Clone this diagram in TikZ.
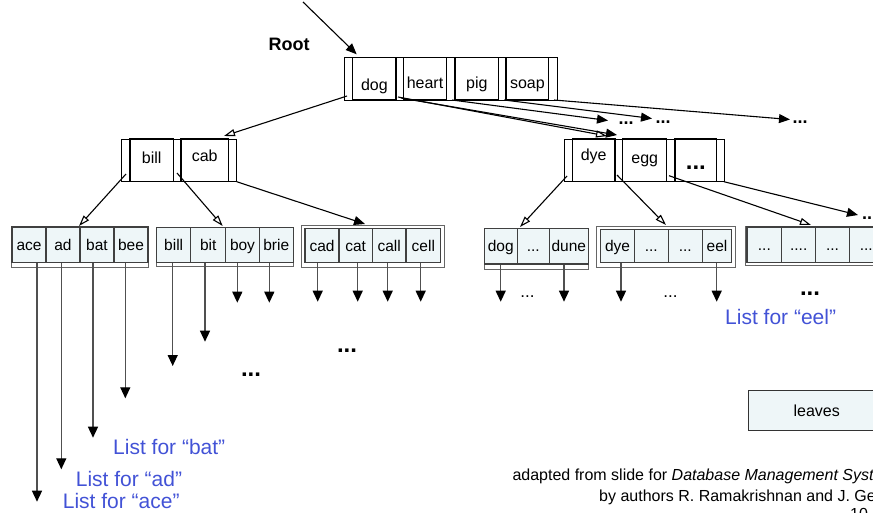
\documentclass[tikz,border=0pt]{standalone}
\usepackage{fontspec}
\setmainfont{Liberation Sans}
\usetikzlibrary{arrows.meta}
\definecolor{leaffill}{HTML}{EEF6F8}
\definecolor{listblue}{RGB}{66,82,214}
\definecolor{shaft}{HTML}{505050}
\begin{document}
\begin{tikzpicture}[x=1pt,y=-1pt,
  ibox/.style={draw, line width=0.7pt, inner sep=0pt, fill=white},
  kcell/.style={draw, line width=1.2pt, inner sep=0pt, minimum height=42.7pt,
    font=\fontsize{16}{18}\selectfont, text height=11.5pt, text depth=0pt},
  lframe/.style={draw=black!60, line width=0.7pt, fill=white, inner sep=0pt},
  lcell/.style={draw=black!75, line width=1.1pt, fill=leaffill, inner sep=0pt,
    font=\fontsize{15.5}{18}\selectfont, text height=11.5pt, text depth=0pt},
  ptr/.style={line width=1.1pt, -{Triangle[width=9pt,length=11pt]}},
  hptr/.style={line width=1.1pt, -{Triangle[open,width=7pt,length=11pt,fill=white]}},
  down/.style={draw=shaft, line width=1.3pt, -{Triangle[width=10pt,length=11pt,color=black]}},
  dots/.style={font=\bfseries\fontsize{18}{20}\selectfont, inner sep=0pt},
  bigdots/.style={font=\bfseries\fontsize{24}{26}\selectfont, inner sep=0pt},
  smalldots/.style={font=\fontsize{17}{19}\selectfont, inner sep=0pt},
  listlbl/.style={text=listblue, font=\fontsize{21}{24}\selectfont, inner sep=0pt, anchor=west},
  foot/.style={font=\fontsize{16}{18}\selectfont, inner sep=0pt}
]
\useasboundingbox (0,0) rectangle (873,512);

% ---------- Root ----------
\node[font=\bfseries\fontsize{18}{20}\selectfont, inner sep=0pt] (rootlbl) at (289,44) {Root};
\node[ibox, minimum width=213.7pt, minimum height=42.7pt] (root) at (450.85,78.65) {};
\node[kcell, minimum width=43.3pt, text height=24.6pt] (rdog) at (374.35,78.65) {dog};
\node[kcell, minimum width=43.4pt, text height=19.2pt] (rheart) at (425,78.65) {heart};
\node[kcell, minimum width=43.7pt, text height=19.2pt] (rpig) at (476.85,78.65) {pig};
\node[kcell, minimum width=42.7pt, text height=19.2pt] (rsoap) at (527.35,78.65) {soap};

% ---------- Level 1 left ----------
\node[ibox, minimum width=115pt, minimum height=42.7pt] (lone) at (179.2,160.35) {};
\node[kcell, minimum width=43.3pt, text height=6pt] (lbill) at (151.65,160.35) {bill};
\node[kcell, minimum width=47.3pt, text height=2.6pt] (lcab) at (204.65,160.35) {cab};

% ---------- Level 1 right ----------
\node[ibox, minimum width=160.3pt, minimum height=42.7pt] (rone) at (644.15,160.35) {};
\node[kcell, minimum width=42.7pt, text height=0.5pt] (rdye) at (593.65,160.35) {dye};
\node[kcell, minimum width=44pt, text height=6pt] (regg) at (644.7,160.35) {egg};
\node[kcell, minimum width=41.7pt, text height=18.4pt, font=\bfseries\fontsize{24}{26}\selectfont] (rmore) at (695.85,160.35) {...};

% ---------- Leaves ----------
% leaf 1
\node[lframe, minimum width=136.6pt, minimum height=40.6pt] (lf1) at (80,247) {};
\node[lcell, minimum width=34pt, minimum height=35.3pt] (ace) at (29,244.65) {ace};
\node[lcell, minimum width=34pt, minimum height=35.3pt] (ad) at (63,244.65) {ad};
\node[lcell, minimum width=34pt, minimum height=35.3pt] (bat) at (97,244.65) {bat};
\node[lcell, minimum width=34pt, minimum height=35.3pt] (bee) at (131,244.65) {bee};
% leaf 2
\node[lframe, minimum width=136.6pt, minimum height=38.7pt] (lf2) at (225,246.65) {};
\node[lcell, minimum width=34pt, minimum height=35pt] (bill) at (173.7,244.8) {bill};
\node[lcell, minimum width=35pt, minimum height=35pt] (bit) at (208.2,244.8) {bit};
\node[lcell, minimum width=33.6pt, minimum height=35pt] (boy) at (242.5,244.8) {boy};
\node[lcell, minimum width=34pt, minimum height=35pt] (brie) at (276.3,244.8) {brie};
% leaf 3
\node[lframe, minimum width=142.3pt, minimum height=42.3pt] (lf3) at (372.85,246.15) {};
\node[lcell, minimum width=34pt, minimum height=34.4pt] (cad) at (322,245.5) {cad};
\node[lcell, minimum width=33.3pt, minimum height=34.4pt] (cat) at (355.65,245.5) {cat};
\node[lcell, minimum width=33.7pt, minimum height=34.4pt] (call) at (389.15,245.5) {call};
\node[lcell, minimum width=34.7pt, minimum height=34.4pt] (cell) at (423.35,245.5) {cell};
% leaf 4
\node[lframe, minimum width=104pt, minimum height=41pt] (lf4) at (536.3,248.8) {};
\node[lcell, minimum width=33pt, minimum height=35.7pt] (dog) at (500.8,246.15) {dog};
\node[lcell, minimum width=32pt, minimum height=35.7pt] (dogm) at (533.3,246.15) {...};
\node[lcell, minimum width=39pt, minimum height=35.7pt] (dune) at (568.8,246.15) {dune};
% leaf 5
\node[lframe, minimum width=139.7pt, minimum height=40.6pt] (lf5) at (665.85,247) {};
\node[lcell, minimum width=33.6pt, minimum height=33.4pt] (dye) at (617.5,246) {dye};
\node[lcell, minimum width=34pt, minimum height=33.4pt] (dyea) at (651.3,246) {...};
\node[lcell, minimum width=34pt, minimum height=33.4pt] (dyeb) at (685.3,246) {...};
\node[lcell, minimum width=29.4pt, minimum height=33.4pt] (eel) at (717,246) {eel};
% leaf 6
\node[lframe, minimum width=144.3pt, minimum height=39pt] (lf6) at (817.85,246.2) {};
\node[lcell, minimum width=34.7pt, minimum height=35.7pt] (ea) at (764.35,244.85) {...};
\node[lcell, minimum width=34pt, minimum height=35.7pt] (eb) at (798.7,244.85) {....};
\node[lcell, minimum width=33.6pt, minimum height=35.7pt] (ec) at (832.5,244.85) {...};
\node[lcell, minimum width=34pt, minimum height=35.7pt] (ed) at (866.3,244.85) {...};

% ---------- pointer coordinates ----------
\coordinate (rootin) at (303,2);
\coordinate (rootin-t) at (356.7,54.3);
\coordinate (rp0) at (347,96);
\coordinate (rp1) at (398,97);
\coordinate (rp1b) at (401,98);
\coordinate (rp2) at (452,100);
\coordinate (rp3) at (504,100);
\coordinate (rp4) at (554,100);
\coordinate (tA1) at (224,136);
\coordinate (tA2) at (607,136);
\coordinate (tA3) at (617,135);
\coordinate (tA4) at (608,120.5);
\coordinate (tA5) at (652,118.5);
\coordinate (tA6) at (790,119.5);

\coordinate (lp0) at (126,174);
\coordinate (lp1) at (177,173);
\coordinate (lp2) at (236.7,181.7);
\coordinate (tB1) at (79,226);
\coordinate (tB2) at (222.7,226);
\coordinate (tB3) at (365,224);

\coordinate (qp0) at (567,176);
\coordinate (qp1) at (617,175);
\coordinate (qp2) at (669,175.7);
\coordinate (qp3) at (724,181.7);
\coordinate (tC1) at (520,227);
\coordinate (tC2) at (666,225);
\coordinate (tC3) at (811,225);
\coordinate (tC4) at (858,215);

% tips of downward arrows
\coordinate (t-ace) at (37,501.7);
\coordinate (t-ad) at (61.3,469.3);
\coordinate (t-bat) at (93,437.7);
\coordinate (t-bee) at (125.3,398.3);
\coordinate (t-bill) at (172.7,366);
\coordinate (t-bit) at (205,341.7);
\coordinate (t-boy) at (237.3,302.7);
\coordinate (t-brie) at (269.3,302.7);
\coordinate (t-cad) at (317.7,301.7);
\coordinate (t-cat) at (357.7,301.7);
\coordinate (t-call) at (387.7,301.7);
\coordinate (t-cell) at (420.7,301.7);
\coordinate (t-dog) at (500.7,301.7);
\coordinate (t-dune) at (564,301.7);
\coordinate (t-dye) at (621,301.7);
\coordinate (t-eel) at (716.7,301.7);

% ---------- connectors ----------
\draw[ptr] (rootin) -- (rootin-t);
\draw[hptr] (rp0) -- (tA1);
\draw[hptr] (rp1) -- (tA2);
\draw[ptr] (rp1b) -- (tA3);
\draw[ptr] (rp2) -- (tA4);
\draw[ptr] (rp3) -- (tA5);
\draw[ptr] (rp4) -- (tA6);

\draw[hptr] (lp0) -- (tB1);
\draw[hptr] (lp1) -- (tB2);
\draw[ptr] (lp2) -- (tB3);

\draw[hptr] (qp0) -- (tC1);
\draw[hptr] (qp1) -- (tC2);
\draw[hptr] (qp2) -- (tC3);
\draw[ptr] (qp3) -- (tC4);

\foreach \k in {ace,ad,bat,bee,bill,bit,boy,brie,cad,cat,call,cell,dog,dune,dye,eel}
  \draw[down] (t-\k |- \k.south) -- (t-\k);

% ---------- dots ----------
\node[dots] (d1) at (626,122.7) {...};
\node[dots] (d2) at (663,122) {...};
\node[dots] (d3) at (800,122) {...};
\node[dots, anchor=west] (d4) at (862,218) {...};
\node[bigdots] (d5) at (810,294) {...};
\node[bigdots] (d6) at (347,351) {...};
\node[bigdots] (d7) at (251,375) {...};
\node[smalldots] (d8) at (527.5,297) {...};
\node[smalldots] (d9) at (670.5,297) {...};

% ---------- list labels ----------
\node[listlbl] (lbat) at (113,446.7) {List for “bat”};
\node[listlbl] (lad) at (75.7,479) {List for “ad”};
\node[listlbl] (lace) at (62.7,501) {List for “ace”};
\node[listlbl] (leel) at (725,316.7) {List for “eel”};

% ---------- legend and footer ----------
\node[draw=black!80, line width=0.9pt, fill=leaffill, minimum width=136.7pt, minimum height=40.7pt,
  inner sep=0pt, font=\fontsize{16}{18}\selectfont] (leaves) at (816.7,410.35) {leaves};
\node[foot, anchor=west] (foot1) at (512.3,476.7) {adapted from slide for \textit{Database Management Systems}};
\node[foot, anchor=west] (foot2) at (599,497.7) {by authors R. Ramakrishnan and J. Gehrke};
\node[foot] (pnum) at (859,514) {10};
\end{tikzpicture}
\end{document}
